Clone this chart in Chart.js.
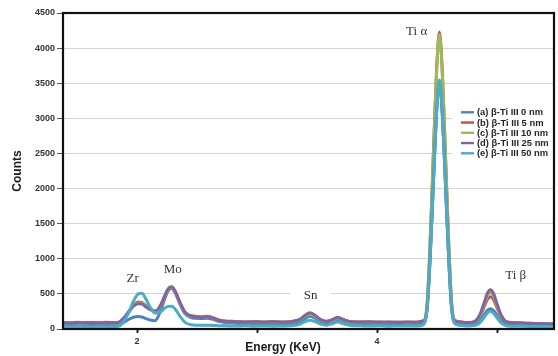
<!DOCTYPE html>
<html><head><meta charset="utf-8">
<script src="https://cdn.jsdelivr.net/npm/chart.js@4.4.0/dist/chart.umd.min.js"></script>
<style>html,body{margin:0;padding:0;background:#fff;}#wrap{width:558px;height:356px;}</style>
</head><body><div id="wrap"><canvas id="c" width="558" height="356"></canvas></div>
<script>
// Energy axis (keV)
const energy = [
1.38,1.44,1.50,1.56,1.62,1.68,1.74,1.80,1.85,
1.89,1.93,1.97,2.01,2.04,2.07,2.11,2.15,2.19,2.23,2.26,2.29,2.32,2.36,2.40,2.44,2.48,
2.53,2.58,2.63,2.68,2.74,2.82,2.90,2.98,3.06,3.14,3.22,3.30,
3.36,3.40,3.44,3.48,3.53,3.58,3.63,3.67,3.72,3.78,
3.86,3.94,4.02,4.10,4.18,4.26,4.33,4.38,
4.40,4.42,4.44,4.46,4.48,4.50,4.52,4.54,4.56,4.58,4.60,4.62,4.64,
4.67,4.71,4.75,4.79,4.80,
4.83,4.86,4.89,4.92,4.945,4.97,5.00,5.03,5.06,
5.09,5.15,5.20,5.26,5.32,5.38,5.43,5.47];

const seriesLabels = ["(a) β-Ti III 0 nm","(b) β-Ti III 5 nm","(c) β-Ti III 10 nm","(d) β-Ti III 25 nm","(e) β-Ti III 50 nm"];
const seriesColors = ["#4F81BD","#C0504D","#9BBB59","#8064A2","#4BACC6"];

const countsA = [
55,60,52,58,54,60,53,58,62,
95,135,168,178,172,152,128,118,230,425,545,575,505,345,215,170,152,
150,152,140,110,90,82,75,80,74,78,72,80,
105,150,180,158,105,85,105,130,105,80,
72,76,70,74,68,72,70,85,
110,340,930,1690,2500,3190,3540,3190,2500,1690,930,340,110,
78,66,62,64,66,
80,120,192,265,290,265,192,120,80,
62,58,56,54,52,50,50,48];
const countsB = [
88,92,84,90,86,92,84,90,95,
150,240,335,385,380,338,292,258,310,455,565,590,525,365,235,192,182,
175,180,165,130,112,108,100,108,100,104,98,108,
135,190,222,195,130,108,130,160,130,102,
100,96,98,94,100,95,97,110,
140,420,1120,2030,2990,3810,4230,3810,2990,2030,1120,420,140,
108,96,92,94,96,
122,187,302,420,460,420,302,187,122,
96,90,86,82,80,76,74,72];
const countsC = [
86,90,88,85,91,87,90,86,93,
145,235,325,372,370,330,285,252,312,460,568,595,520,360,230,188,174,
168,172,158,126,108,104,100,104,98,100,96,106,
132,185,215,190,128,106,128,155,128,100,
97,99,95,98,94,97,95,108,
140,415,1110,2015,2965,3780,4195,3780,2965,2015,1110,415,140,
106,95,90,93,95,
127,202,333,469,515,469,333,202,127,
95,88,85,81,78,75,73,71];
const countsD = [
92,85,96,88,94,86,95,88,99,
160,250,325,358,355,320,275,250,320,470,575,600,530,370,240,190,175,
165,170,155,125,110,105,98,105,96,102,95,110,
140,195,230,200,135,110,135,165,135,105,
98,102,95,100,92,98,95,115,
130,345,935,1695,2505,3190,3530,3185,2495,1685,925,335,130,
108,95,92,95,97,
130,214,359,509,560,509,359,214,130,
96,88,85,80,78,75,72,70];
const countsE = [
32,28,34,30,27,33,29,31,42,
110,230,395,500,510,440,310,228,235,295,322,325,280,175,95,64,55,
52,55,50,48,45,42,46,40,44,40,43,48,
70,105,125,108,70,55,75,100,75,50,
45,42,46,40,44,41,43,55,
100,330,920,1680,2490,3185,3545,3185,2490,1680,920,330,100,
58,48,44,46,48,
58,95,160,227,252,227,160,95,58,
44,40,38,36,35,34,34,33];

const yTicks = [0,500,1000,1500,2000,2500,3000,3500,4000,4500];
const xTicks = [2,3,4,5];
const xTickLabels = {2:"2",4:"4"};
const peakLabels = ["Zr","Mo","Sn","Ti α","Ti β"];
const peakLabelE = [1.964,2.297,3.447,4.33,5.156];
const peakLabelY = [712,846,473,4239,760];

const allCounts = [countsA,countsB,countsC,countsD,countsE];

const datasets = allCounts.map((arr,i)=>({
  label: seriesLabels[i],
  data: energy.map((e,j)=>({x:e,y:arr[j]})),
  borderColor: seriesColors[i],
  backgroundColor: seriesColors[i],
  borderWidth: 3,
  pointRadius: 0,
  cubicInterpolationMode: 'monotone',
  fill: false,
  order: 5 - i
}));

const decor = {
  id:'decor',
  beforeDatasetsDraw(chart){
    const {ctx, scales:{x,y}} = chart;
    ctx.save();
    const i = 2;
    const px = x.getPixelForValue(peakLabelE[i]), py = y.getPixelForValue(peakLabelY[i]);
    ctx.fillStyle = '#fff';
    ctx.fillRect(px-20, py-7, 40, 14);
    ctx.fillRect(452, 101, 101, 62);
    ctx.restore();
  },
  afterDatasetsDraw(chart){
    const {ctx, chartArea:ca, scales:{x,y}} = chart;
    ctx.save();
    ctx.strokeStyle = '#111';
    ctx.lineWidth = 2.2;
    ctx.strokeRect(ca.left, ca.top, ca.right-ca.left, ca.bottom-ca.top);
    ctx.fillStyle = '#333';
    ctx.font = '13px "Liberation Serif", serif';
    ctx.textAlign = 'center';
    ctx.textBaseline = 'middle';
    peakLabels.forEach((t,i)=>{
      ctx.fillText(t, x.getPixelForValue(peakLabelE[i]), y.getPixelForValue(peakLabelY[i]));
    });
    ctx.textAlign = 'left';
    ctx.font = 'bold 9.4px "Liberation Sans", Arial, sans-serif';
    seriesLabels.forEach((t,i)=>{
      const ry = 112.3 + i*10.25;
      ctx.strokeStyle = seriesColors[i];
      ctx.lineWidth = 2.4;
      ctx.beginPath(); ctx.moveTo(461, ry); ctx.lineTo(474, ry); ctx.stroke();
      ctx.fillStyle = '#262626';
      ctx.fillText(t, 477, ry+0.5);
    });
    ctx.font = 'bold 12px "Liberation Sans", Arial, sans-serif';
    ctx.textAlign = 'center';
    ctx.fillStyle = '#1a1a1a';
    ctx.fillText('Energy (KeV)', 283, 348);
    ctx.restore();
  }
};

new Chart(document.getElementById('c'), {
  type:'line',
  data:{datasets},
  options:{
    responsive:false, animation:false, devicePixelRatio:1,
    layout:{padding:{left:0,right:4,top:13,bottom:0}},
    plugins:{legend:{display:false}, tooltip:{enabled:false}},
    scales:{
      x:{type:'linear', min:1.383, max:5.475,
        afterBuildTicks: s => { s.ticks = xTicks.map(v=>({value:v})); },
        afterFit: s => { s.height = 27; },
        grid:{drawOnChartArea:false, drawTicks:true, tickLength:4, tickColor:'#222', tickWidth:2},
        border:{display:false},
        ticks:{padding:3, color:'#333', font:{family:'"Liberation Sans", Arial, sans-serif', size:9, weight:'bold'},
          maxRotation:0, autoSkip:false,
          callback: v => xTickLabels[v] || ''}
      },
      y:{type:'linear', min:0, max:4500,
        afterBuildTicks: s => { s.ticks = yTicks.map(v=>({value:v})); },
        afterFit: s => { s.width = 63; },
        grid:{color:'#d4d4d4', lineWidth:1, drawTicks:true, tickLength:6, tickColor:'#555'},
        border:{display:false},
        ticks:{padding:2, color:'#333', font:{family:'"Liberation Sans", Arial, sans-serif', size:9, weight:'bold'},
          callback: v => String(v)},
        title:{display:true, text:'Counts', color:'#1a1a1a', padding:{top:10,bottom:0},
          font:{family:'"Liberation Sans", Arial, sans-serif', size:12, weight:'bold'}}
      }
    }
  },
  plugins:[decor]
});
</script></body></html>
